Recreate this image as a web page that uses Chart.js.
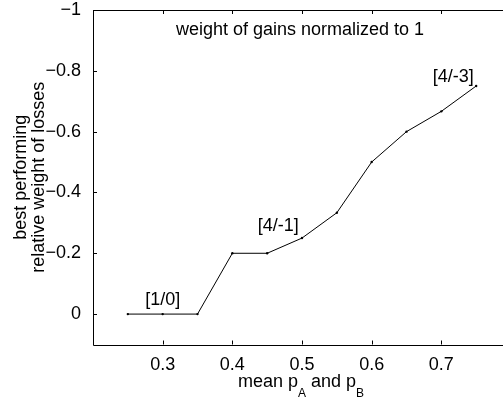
<!DOCTYPE html>
<html>
<head>
<meta charset="utf-8">
<script src="https://cdn.jsdelivr.net/npm/chart.js@4/dist/chart.umd.min.js"></script>
<style>
html,body{margin:0;padding:0;overflow:hidden;background:#fff;width:503px;height:399px;}
#wrap{width:515px;height:399px;}
</style>
</head>
<body>
<div id="wrap"><canvas id="c" width="515" height="399"></canvas></div>
<script>
// ---- data ----
const meanP = [0.25, 0.30, 0.35, 0.40, 0.45, 0.50, 0.55, 0.60, 0.65, 0.70, 0.75];
const bestWeight = [0, 0, 0, -0.2, -0.2, -0.25, -0.3333, -0.5, -0.6, -0.6667, -0.75];
const xTickValues = [0.3, 0.4, 0.5, 0.6, 0.7];
const yTickValues = [-1, -0.8, -0.6, -0.4, -0.2, 0];
const annLabels = ['[1/0]', '[4/-1]', '[4/-3]'];
const annX = [0.30, 0.466, 0.717];
const annY = [-0.046, -0.29, -0.78];
const chartTitle = 'weight of gains normalized to 1';
const yTitleLines = ['best performing', 'relative weight of losses'];

const FONT = '"Liberation Sans", Arial, Helvetica, sans-serif';
const FS = 18;

function fmt(v){
  let s = (Math.round(v*10)/10).toString();
  if (v < 0) s = '\u2212' + s.slice(1);
  return s;
}

const decor = {
  id: 'decor',
  afterDraw(chart){
    const ctx = chart.ctx;
    const a = chart.chartArea;
    const xs = chart.scales.x, ys = chart.scales.y;
    ctx.save();
    // box
    ctx.strokeStyle = '#000';
    ctx.lineWidth = 1;
    ctx.beginPath();
    ctx.rect(Math.round(a.left)+0.5, Math.round(a.top)+0.5, Math.round(a.right-a.left), Math.round(a.bottom-a.top));
    ctx.stroke();
    // inward ticks
    const tl = 4;
    ctx.beginPath();
    xTickValues.forEach(v => {
      const px = Math.round(xs.getPixelForValue(v)) + 0.5;
      ctx.moveTo(px, a.bottom); ctx.lineTo(px, a.bottom - tl);
      ctx.moveTo(px, a.top); ctx.lineTo(px, a.top + tl);
    });
    yTickValues.forEach(v => {
      const py = Math.round(ys.getPixelForValue(v)) + 0.5;
      ctx.moveTo(a.left, py); ctx.lineTo(a.left + tl, py);
      ctx.moveTo(a.right, py); ctx.lineTo(a.right - tl, py);
    });
    ctx.stroke();
    // title inside
    ctx.fillStyle = '#000';
    ctx.font = FS + 'px ' + FONT;
    ctx.textAlign = 'center';
    ctx.textBaseline = 'alphabetic';
    ctx.fillText(chartTitle, 300, a.top + 24.5);
    // annotations
    ctx.textBaseline = 'middle';
    annLabels.forEach((t, i) => {
      ctx.fillText(t, xs.getPixelForValue(annX[i]), ys.getPixelForValue(annY[i]));
    });
    // y title (rotated two lines)
    ctx.save();
    const cy = (a.top + a.bottom) / 2;
    ctx.translate(0, cy);
    ctx.rotate(-Math.PI/2);
    ctx.textAlign = 'center';
    ctx.textBaseline = 'alphabetic';
    ctx.fillText(yTitleLines[0], 0, 26);
    ctx.fillText(yTitleLines[1], 0, 44);
    ctx.restore();
    // x title with subscripts
    const parts = [
      {t:'mean p', sub:false},
      {t:'A', sub:true},
      {t:' and p', sub:false},
      {t:'B', sub:true}
    ];
    const mainF = FS + 'px ' + FONT, subF = '12px ' + FONT;
    let w = 0;
    parts.forEach(p => { ctx.font = p.sub ? subF : mainF; p.w = ctx.measureText(p.t).width; w += p.w; });
    let x = 301 - w/2;
    const base = 386.5;
    ctx.textAlign = 'left';
    ctx.textBaseline = 'alphabetic';
    parts.forEach(p => {
      ctx.font = p.sub ? subF : mainF;
      ctx.fillText(p.t, x, p.sub ? base + 10 : base);
      x += p.w;
    });
    ctx.restore();
  }
};

new Chart(document.getElementById('c'), {
  type: 'line',
  data: {
    datasets: [{
      data: meanP.map((x, i) => ({x: x, y: bestWeight[i]})),
      borderColor: '#000',
      backgroundColor: '#000',
      borderWidth: 1,
      pointRadius: 1.2,
      pointBorderWidth: 0,
      pointHoverRadius: 1.2,
      tension: 0,
      fill: false
    }]
  },
  options: {
    responsive: false,
    devicePixelRatio: 1,
    animation: false,
    events: [],
    layout: { padding: { left: 0, top: 10, right: 4, bottom: 0 } },
    plugins: { legend: { display: false }, tooltip: { enabled: false }, title: { display: false } },
    scales: {
      x: {
        type: 'linear',
        min: 0.2, max: 0.8,
        grid: { display: false },
        border: { display: false },
        afterBuildTicks: s => { s.ticks = xTickValues.map(v => ({value: v})); },
        afterFit: s => { s.height = 54.5; s.paddingLeft = 0; s.paddingRight = 0; },
        ticks: {
          color: '#000',
          font: { family: FONT, size: FS },
          padding: 2,
          maxRotation: 0,
          callback: v => fmt(v)
        }
      },
      y: {
        type: 'linear',
        min: -1, max: 0.1,
        reverse: true,
        grid: { display: false },
        border: { display: false },
        afterBuildTicks: s => { s.ticks = yTickValues.map(v => ({value: v})); },
        afterFit: s => { s.width = 93; s.paddingTop = 0; s.paddingBottom = 0; },
        ticks: {
          color: '#000',
          font: { family: FONT, size: FS },
          padding: 4,
          callback: v => fmt(v)
        }
      }
    }
  },
  plugins: [decor]
});
</script>
</body>
</html>
